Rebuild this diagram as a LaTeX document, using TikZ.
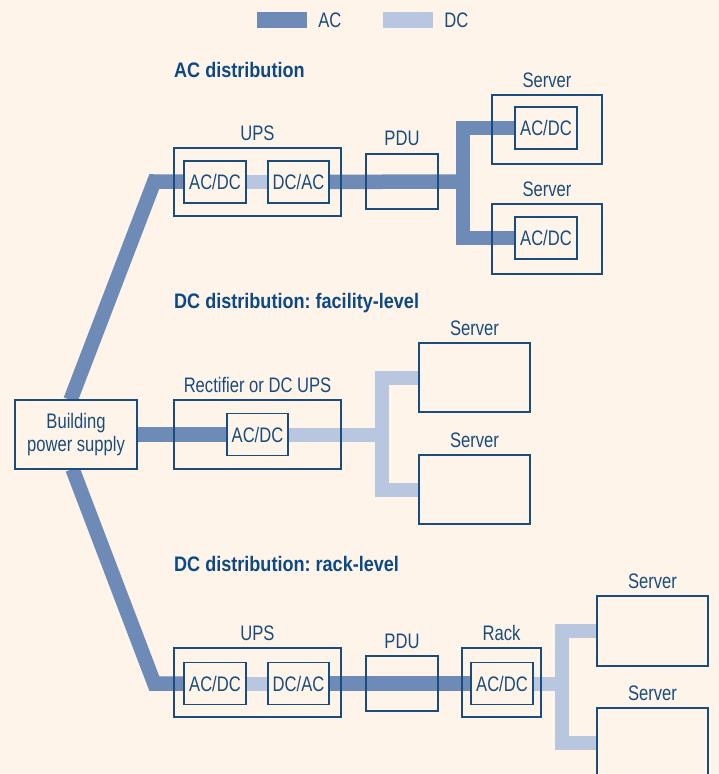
\documentclass[tikz,border=0pt]{standalone}
\usepackage{fontspec}
\setmainfont[FakeStretch=0.79,BoldFeatures={FakeStretch=0.86}]{Liberation Sans}
\usetikzlibrary{positioning}
\frenchspacing

\definecolor{bgcream}{HTML}{FEF4E9}
\definecolor{acblue}{HTML}{6E8AB6}
\definecolor{dcblue}{HTML}{B8C6DF}
\definecolor{boxblue}{HTML}{1A4C7C}
\definecolor{headblue}{HTML}{0D4A85}

\pgfdeclarelayer{back}
\pgfdeclarelayer{wires}
\pgfsetlayers{back,wires,main}

\tikzset{
  acline/.style={draw=acblue, line width=14.5pt, line join=miter},
  dcline/.style={draw=dcblue, line width=14pt, line join=miter},
  unit/.style={draw=boxblue, line width=1.4pt, inner sep=0pt, text=boxblue},
  conv/.style={unit, fill=bgcream, minimum width=62pt, minimum height=42pt},
  tag/.style={text=boxblue, inner sep=0pt},
  heading/.style={text=headblue, inner sep=0pt, anchor=base west,
    font=\fontsize{21}{24}\selectfont\bfseries},
}

\begin{document}
\begin{tikzpicture}[x=1pt, y=-1pt, font=\fontsize{21}{23}\selectfont]

% --- Page ---
\useasboundingbox (0,0) rectangle (719,774);

% --- Legend ---
\node[fill=acblue, minimum width=50pt, minimum height=16pt, inner sep=0pt] (keyac) at (282,20) {};
\node[tag, right=11pt of keyac] (keyactxt) {AC};
\node[fill=dcblue, minimum width=50pt, minimum height=16pt, inner sep=0pt] (keydc) at (408,20) {};
\node[tag, right=11pt of keydc] (keydctxt) {DC};

% --- Headings ---
\node[heading] (headA) at (174,77.3)  {AC distribution};
\node[heading] (headB) at (174,308.3) {DC distribution: facility-level};
\node[heading] (headC) at (174,571.5) {DC distribution: rack-level};

% --- Building power supply ---
\node[unit, fill=bgcream, minimum width=122pt, minimum height=69pt, align=center]
  (bps) at (76,434.5) {Building\\power supply};
\coordinate (feedA) at (70.5,400);
\coordinate (feedC) at (72.5,469);
\coordinate (bendA) at (154.3,181.5);
\coordinate (bendC) at (154.3,683.5);

% --- AC distribution ---
\node[unit, minimum width=167pt, minimum height=68pt] (upsA) at (257.5,182) {};
\node[tag, above=6pt of upsA] (upsAlbl) {UPS};
\node[conv] (acdcA) at (215,182) {AC/DC};
\node[conv, minimum width=61pt] (dcacA) at (298.5,182) {DC/AC};
\node[unit, minimum width=72pt, minimum height=55pt] (pduA) at (402,181.5) {};
\node[tag, above=7pt of pduA] (pduAlbl) {PDU};
\coordinate (brA) at (463,181.5);
\node[unit, minimum width=110pt, minimum height=69pt] (srvA1) at (547,129.5) {};
\node[tag, above=6pt of srvA1] (srvA1lbl) {Server};
\node[conv] (srvA1in) at (546,128) {AC/DC};
\node[unit, minimum width=110pt, minimum height=70pt] (srvA2) at (547,239) {};
\node[tag, above=6pt of srvA2] (srvA2lbl) {Server};
\node[conv] (srvA2in) at (546,238) {AC/DC};

% --- DC distribution: facility-level ---
\node[unit, minimum width=167pt, minimum height=69pt] (rect) at (257.5,434.5) {};
\node[tag, above=6pt of rect] (rectlbl) {Rectifier or DC UPS};
\node[conv, minimum width=61pt] (acdcB) at (257.5,434.5) {AC/DC};
\coordinate (brB) at (382,434.5);
\node[unit, fill=bgcream, minimum width=111pt, minimum height=69pt] (srvB1) at (474.5,377.5) {};
\node[tag, above=6pt of srvB1] (srvB1lbl) {Server};
\node[unit, fill=bgcream, minimum width=111pt, minimum height=69pt] (srvB2) at (474.5,489.5) {};
\node[tag, above=6pt of srvB2] (srvB2lbl) {Server};

% --- DC distribution: rack-level ---
\node[unit, minimum width=167pt, minimum height=69pt] (upsC) at (257.5,682.5) {};
\node[tag, above=6pt of upsC] (upsClbl) {UPS};
\node[conv] (acdcC) at (215,683.5) {AC/DC};
\node[conv, minimum width=61pt] (dcacC) at (298.5,683.5) {DC/AC};
\node[unit, minimum width=72pt, minimum height=55pt] (pduC) at (402,683.5) {};
\node[tag, above=6pt of pduC] (pduClbl) {PDU};
\node[unit, minimum width=79pt, minimum height=69pt] (rack) at (501.5,682.5) {};
\node[tag, above=6pt of rack] (racklbl) {Rack};
\node[conv] (rackin) at (502,683.5) {AC/DC};
\coordinate (brC) at (562,683.5);
\node[unit, fill=bgcream, minimum width=111pt, minimum height=70pt] (srvC1) at (652.5,631) {};
\node[tag, above=6pt of srvC1] (srvC1lbl) {Server};
\node[unit, fill=bgcream, minimum width=111pt, minimum height=70pt] (srvC2) at (652.5,743) {};
\node[tag, above=6pt of srvC2] (srvC2lbl) {Server};

% --- Background ---
\begin{pgfonlayer}{back}
  \fill[bgcream] (0,0) rectangle (719,774);
\end{pgfonlayer}

% --- Power lines (under the boxes) ---
\begin{pgfonlayer}{wires}
  % AC distribution
  \draw[acline] (feedA) -- (bendA) -- (acdcA);
  \draw[dcline] (acdcA) -- (dcacA);
  \draw[acline] (dcacA) -- (brA);
  \draw[acline] (srvA1in) -| (brA) |- (srvA2in);
  % facility-level
  \draw[acline] (bps) -- (acdcB);
  \draw[dcline] (acdcB) -- (brB);
  \draw[dcline] (srvB1) -| (brB) |- (srvB2);
  % rack-level
  \draw[acline] (feedC) -- (bendC) -- (acdcC);
  \draw[dcline] (acdcC) -- (dcacC);
  \draw[acline] (dcacC) -- (rackin);
  \draw[dcline] (rackin) -- (brC);
  \draw[dcline] (srvC1) -| (brC) |- (srvC2);
\end{pgfonlayer}

\end{tikzpicture}
\end{document}
